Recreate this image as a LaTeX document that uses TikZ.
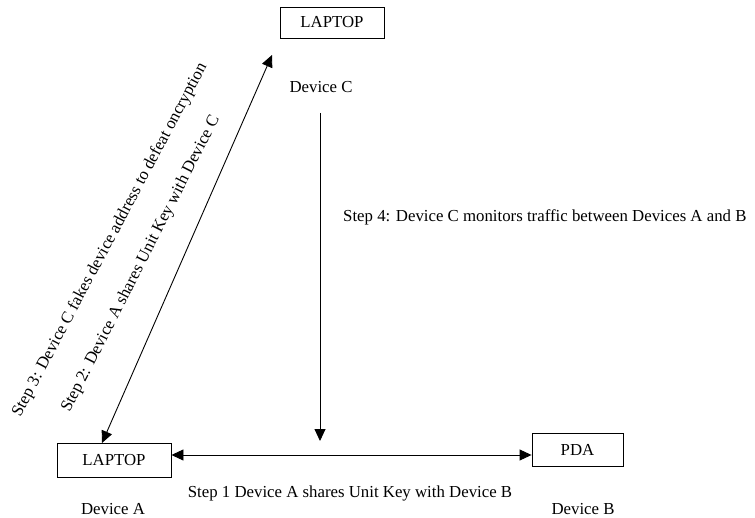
\documentclass[tikz,border=0pt]{standalone}
\usepackage{fontspec}
\setmainfont{Liberation Serif}
\usetikzlibrary{arrows.meta}
\begin{document}
\begin{tikzpicture}[x=1pt,y=-1pt,
  every node/.style={font=\fontsize{16.8}{20}\selectfont, inner sep=0pt},
  devbox/.style={draw, line width=0.9pt},
  link/.style={line width=0.9pt, -{Triangle[length=12pt,width=11pt]}},
  duplex/.style={line width=0.9pt, {Triangle[length=12pt,width=11pt]}-{Triangle[length=12pt,width=11pt]}}]
\useasboundingbox (0,0) rectangle (755,518);

% devices
\node[devbox, minimum width=104pt, minimum height=31pt] (laptopC) at (332,22.5) {LAPTOP};
\node[devbox, minimum width=114pt, minimum height=34pt] (laptopA) at (114,460) {LAPTOP};
\node[devbox, minimum width=91pt, minimum height=33pt] (pda) at (577.5,449.5) {PDA};

% device captions
\node (devC) at (321,87) {Device C};
\node (devA) at (113,509) {Device A};
\node (devB) at (583,509) {Device B};

% step descriptions
\node[anchor=west] (step4) at (343,217) {Step 4: Device C monitors traffic between Devices A and B};
\node (step1) at (350,493) {Step 1 Device A shares Unit Key with Device B};
\node[rotate=62] (step3) at (110,240) {Step 3: Device C fakes device address to defeat oncryption};
\node[rotate=63] (step2) at (141,264) {Step 2: Device A shares Unit Key with Device C};

% connectors
\coordinate (hline) at (0,455);
\coordinate (diagA) at (102,443);
\coordinate (diagC) at (272,55);
\coordinate (mtop) at (320,113);
\coordinate (mbot) at (320,441);

\draw[duplex] (laptopA.east |- hline) -- (pda.west |- hline);
\draw[duplex] (diagA) -- (diagC);
\draw[link] (mtop) -- (mbot);
\end{tikzpicture}
\end{document}
